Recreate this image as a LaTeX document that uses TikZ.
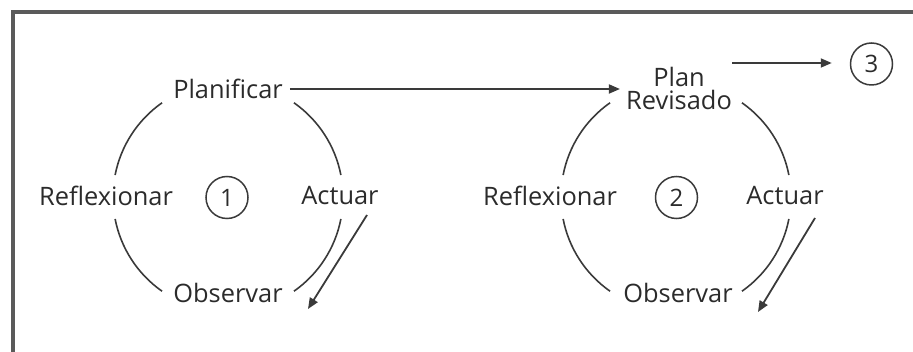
\documentclass[tikz,border=0pt]{standalone}
\usepackage{fontspec}
\setmainfont{Open Sans}
\usetikzlibrary{arrows.meta}
\definecolor{ink}{HTML}{2B2B2B}
\definecolor{linec}{HTML}{3A3A3A}
\definecolor{framec}{HTML}{5A5A5A}
\tikzset{
  lbl/.style={font=\fontsize{25.4}{23}\selectfont, text=ink, inner sep=0pt, align=center},
  numc/.style={circle, draw=linec, line width=1.5pt, minimum size=42pt, inner sep=0pt, font=\fontsize{24}{24}\selectfont, text=ink},
  arcline/.style={draw=linec, line width=1.6pt},
  arr/.style={draw=linec, line width=1.8pt, -{Triangle[length=11pt,width=9pt]}}
}
\begin{document}
\begin{tikzpicture}[x=1pt,y=-1pt]
\useasboundingbox (0,0) rectangle (913,352);
\begin{scope}
\clip (0,0) rectangle (913,352);
\draw[framec, line width=4pt] (13,12) rectangle (940,380);
\end{scope}
% cycle 1
\coordinate (c1) at (228,197);
\node[numc] (n1) at (227,197.5) {1};
\node[lbl] (plan1) at (228,89) {Planificar};
\node[lbl] (refl1) at (106,196) {Reflexionar};
\node[lbl] (act1) at (340,196) {Actuar};
\node[lbl] (obs1) at (228,293) {Observar};
\draw[arcline] ([shift={(125:115)}]c1) arc[start angle=125, end angle=169, radius=115];
\draw[arcline] ([shift={(55:115)}]c1) arc[start angle=55, end angle=11, radius=115];
\draw[arcline] ([shift={(191:115)}]c1) arc[start angle=191, end angle=235, radius=115];
\draw[arcline] ([shift={(-11:115)}]c1) arc[start angle=-11, end angle=-55, radius=115];
\coordinate (a1s) at (367,215);
\coordinate (a1e) at (308,309);
\draw[arr] (a1s) -- (a1e);
% cycle 2
\coordinate (c2) at (676,197);
\node[numc] (n2) at (676.5,197.5) {2};
\node[lbl] (plan2) at (679,88) {Plan\\Revisado};
\node[lbl] (refl2) at (550,196) {Reflexionar};
\node[lbl] (act2) at (785,196) {Actuar};
\node[lbl] (obs2) at (678,293) {Observar};
\draw[arcline] ([shift={(125:115)}]c2) arc[start angle=125, end angle=169, radius=115];
\draw[arcline] ([shift={(55:115)}]c2) arc[start angle=55, end angle=11, radius=115];
\draw[arcline] ([shift={(191:115)}]c2) arc[start angle=191, end angle=235, radius=115];
\draw[arcline] ([shift={(-11:115)}]c2) arc[start angle=-11, end angle=-55, radius=115];
\coordinate (a2s) at (815,218);
\coordinate (a2e) at (758,312);
\draw[arr] (a2s) -- (a2e);
% links
\draw[arr] ([xshift=7pt]plan1.east) -- ([xshift=-6pt]plan2.west |- plan1.east);
\node[numc] (n3) at (871.5,64) {3};
\coordinate (a3s) at (732,63);
\draw[arr] (a3s) -- ([xshift=-18pt]n3.west |- a3s);
\end{tikzpicture}
\end{document}
